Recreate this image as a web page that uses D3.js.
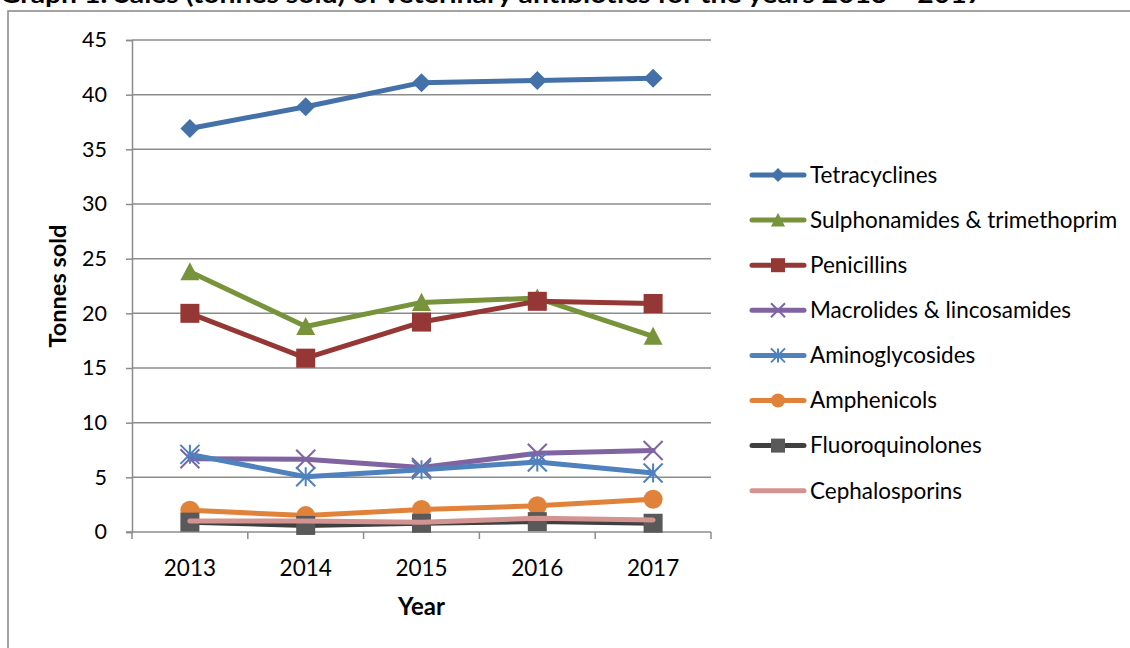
<!DOCTYPE html>
<html>
<head>
<meta charset="utf-8">
<script src="https://cdn.jsdelivr.net/npm/d3@7"></script>
<style>
  body { margin: 0; background: #fff; }
  svg { display: block; font-family: Lato, "Noto Sans", sans-serif; }
</style>
</head>
<body>
<script>
const years = ["2013", "2014", "2015", "2016", "2017"];
const yTicks = [0, 5, 10, 15, 20, 25, 30, 35, 40, 45];

const tetracyclines = [36.9, 38.9, 41.1, 41.3, 41.5];
const sulphonamides = [23.8, 18.8, 21.0, 21.4, 17.9];
const penicillins = [20.0, 15.9, 19.2, 21.1, 20.9];
const macrolides = [6.7, 6.65, 5.9, 7.2, 7.45];
const aminoglycosides = [7.1, 5.06, 5.7, 6.4, 5.4];
const amphenicols = [2.0, 1.5, 2.05, 2.4, 3.0];
const fluoroquinolones = [0.9, 0.6, 0.8, 0.95, 0.8];
const cephalosporins = [1.0, 1.0, 0.9, 1.25, 1.1];

const series = [
    {name: "Tetracyclines", values: tetracyclines, color: "#4471a8", marker: "diamond"},
    {name: "Sulphonamides & trimethoprim", values: sulphonamides, color: "#77933c", marker: "triangle"},
    {name: "Penicillins", values: penicillins, color: "#953735", marker: "square"},
    {name: "Macrolides & lincosamides", values: macrolides, color: "#8064a2", marker: "x"},
    {name: "Aminoglycosides", values: aminoglycosides, color: "#4f81bd", marker: "star"},
    {name: "Amphenicols", values: amphenicols, color: "#e0823a", marker: "circle"},
    {name: "Fluoroquinolones", values: fluoroquinolones, color: "#404040", marker: "square", markerColor: "#595959"},
    {name: "Cephalosporins", values: cephalosporins, color: "#d39391", marker: "none"},
];

const W = 1130, H = 648;
const plot = {left: 132, right: 711, top: 40, bottom: 532};

const svg = d3.select("body").append("svg")
    .attr("width", W)
    .attr("height", H);

// title, cut off at the top of the frame like the source
svg.append("text")
    .attr("x", 0)
    .attr("y", 3)
    .attr("font-size", 24)
    .attr("font-weight", "bold")
    .attr("textLength", 983)
    .attr("lengthAdjust", "spacingAndGlyphs")
    .attr("fill", "#000")
    .text("Graph 1: Sales (tonnes sold) of veterinary antibiotics for the years 2013 – 2017");

// chart frame
svg.append("path")
    .attr("d", `M8,${H + 2} L8,11 L${W + 2},11`)
    .attr("fill", "none")
    .attr("stroke", "#878787")
    .attr("stroke-width", 1.5);

const x = d3.scaleBand().domain(years).range([plot.left, plot.right]);
const y = d3.scaleLinear().domain([0, 45]).range([plot.bottom, plot.top]);
const cx = d => x(d) + x.bandwidth() / 2;

// gridlines
svg.append("g")
    .selectAll("line")
    .data(yTicks.filter(t => t > 0))
    .join("line")
        .attr("x1", plot.left)
        .attr("x2", plot.right)
        .attr("y1", d => y(d))
        .attr("y2", d => y(d))
        .attr("stroke", "#8c8c8c")
        .attr("stroke-width", 1.5);

// y axis
const yAxis = svg.append("g")
    .attr("transform", `translate(${plot.left},0)`)
    .call(d3.axisLeft(y).tickValues(yTicks).tickSize(6).tickPadding(19));
yAxis.select(".domain").attr("stroke", "#8c8c8c").attr("stroke-width", 1.5);
yAxis.selectAll(".tick line").attr("stroke", "#8c8c8c").attr("stroke-width", 1.5);
yAxis.selectAll(".tick text")
    .attr("font-family", "Lato, sans-serif")
    .attr("font-size", 21.5)
    .attr("fill", "#000");

// x axis: ticks between categories
const xAxis = svg.append("g")
    .attr("transform", `translate(0,${plot.bottom})`);
xAxis.append("line")
    .attr("x1", plot.left - 6)
    .attr("x2", plot.right)
    .attr("stroke", "#8c8c8c")
    .attr("stroke-width", 1.5);
xAxis.selectAll("line.tk")
    .data(years.concat(["end"]))
    .join("line")
        .attr("class", "tk")
        .attr("x1", (d, i) => i < years.length ? x(d) : plot.right)
        .attr("x2", (d, i) => i < years.length ? x(d) : plot.right)
        .attr("y1", 0)
        .attr("y2", 7)
        .attr("stroke", "#8c8c8c")
        .attr("stroke-width", 1.5);
xAxis.selectAll("text")
    .data(years)
    .join("text")
        .attr("x", d => cx(d))
        .attr("y", 44)
        .attr("text-anchor", "middle")
        .attr("font-size", 22.5)
        .attr("fill", "#000")
        .text(d => d);

// axis titles
svg.append("text")
    .attr("x", (plot.left + plot.right) / 2)
    .attr("y", 615)
    .attr("text-anchor", "middle")
    .attr("font-size", 24)
    .attr("font-weight", "bold")
    .text("Year");

svg.append("text")
    .attr("transform", `translate(66,${(plot.top + plot.bottom) / 2}) rotate(-90)`)
    .attr("text-anchor", "middle")
    .attr("font-size", 23.5)
    .attr("font-weight", "bold")
    .text("Tonnes sold");

function drawMarker(g, type, color, s) {
    if (type === "diamond") {
        g.append("path").attr("d", d3.symbol(d3.symbolSquare, s * s / 2)())
            .attr("transform", "rotate(45)").attr("fill", color);
    } else if (type === "triangle") {
        const h = s * 0.9;
        g.append("path").attr("d", `M0,${-h / 2 - 1} L${s / 2},${h / 2} L${-s / 2},${h / 2} Z`)
            .attr("fill", color);
    } else if (type === "square") {
        g.append("rect").attr("x", -s / 2).attr("y", -s / 2)
            .attr("width", s).attr("height", s).attr("fill", color);
    } else if (type === "circle") {
        g.append("circle").attr("r", s / 2).attr("fill", color);
    } else if (type === "x" || type === "star") {
        const r = s / 2;
        let d = `M${-r},${-r} L${r},${r} M${-r},${r} L${r},${-r}`;
        if (type === "star") d += ` M0,${-r} L0,${r}`;
        g.append("path").attr("d", d).attr("stroke", color)
            .attr("stroke-width", 2).attr("fill", "none");
    }
}

const line = d3.line()
    .x((d, i) => cx(years[i]))
    .y(d => y(d));

series.forEach(s => {
    const g = svg.append("g");
    g.append("path")
        .datum(s.values)
        .attr("d", line)
        .attr("fill", "none")
        .attr("stroke", s.color)
        .attr("stroke-width", 5)
        .attr("stroke-linejoin", "round")
        .attr("stroke-linecap", "round");
    s.values.forEach((v, i) => {
        const m = g.append("g").attr("transform", `translate(${cx(years[i])},${y(v)})`);
        drawMarker(m, s.marker, s.markerColor || s.color, 19);
    });
});

// legend
const legend = svg.append("g");
series.forEach((s, i) => {
    const ly = 175 + i * 45.1;
    const item = legend.append("g").attr("transform", `translate(0,${ly})`);
    item.append("line")
        .attr("x1", 752)
        .attr("x2", 804)
        .attr("stroke", s.color)
        .attr("stroke-width", 5)
        .attr("stroke-linecap", "round");
    const m = item.append("g").attr("transform", "translate(778,0)");
    drawMarker(m, s.marker, s.markerColor || s.color, 14);
    item.append("text")
        .attr("x", 810)
        .attr("y", 0)
        .attr("dy", "0.35em")
        .attr("font-size", 22.5)
        .attr("fill", "#000")
        .text(s.name);
});
</script>
</body>
</html>
